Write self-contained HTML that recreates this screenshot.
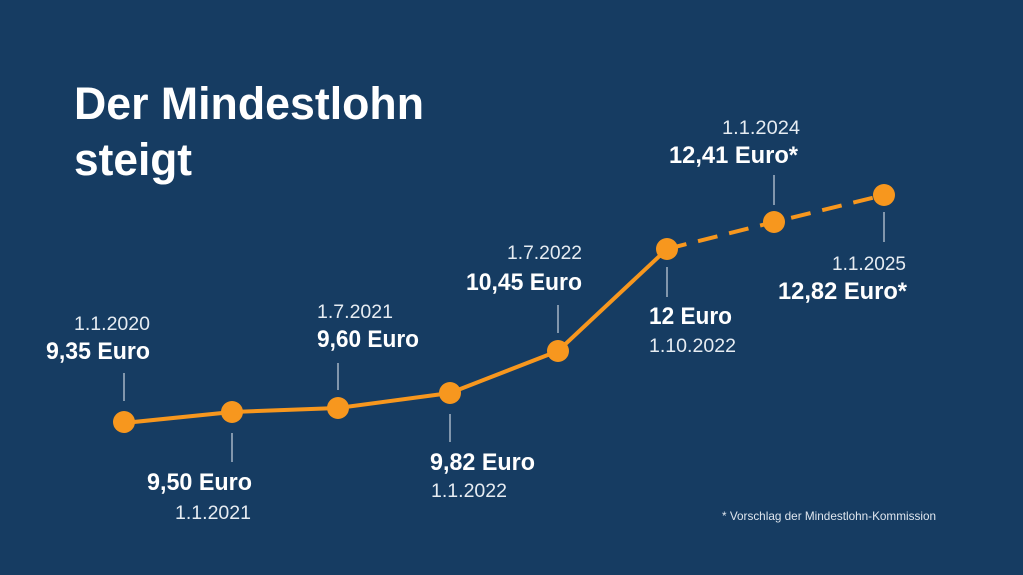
<!DOCTYPE html>
<html><head><meta charset="utf-8"><style>
html,body{margin:0;padding:0;background:#163c62;}
svg{display:block;font-family:"Liberation Sans",sans-serif;}
.v{font-weight:bold;font-size:24px;fill:#fff;}
.d{font-size:19.5px;fill:#e6ecf2;}
</style></head><body>
<svg width="1023" height="575" viewBox="0 0 1023 575">
<rect width="1023" height="575" fill="#163c62"/>
<text x="74" y="119" font-size="45" font-weight="bold" fill="#fff" textLength="350" lengthAdjust="spacingAndGlyphs">Der Mindestlohn</text>
<text x="74" y="175" font-size="45" font-weight="bold" fill="#fff" textLength="118" lengthAdjust="spacingAndGlyphs">steigt</text>
<g stroke="#c9d3de" stroke-width="1.2">
<line x1="124" y1="373" x2="124" y2="401"/>
<line x1="232" y1="433" x2="232" y2="462"/>
<line x1="338" y1="363" x2="338" y2="390"/>
<line x1="450" y1="414" x2="450" y2="442"/>
<line x1="558" y1="305" x2="558" y2="333"/>
<line x1="667" y1="267" x2="667" y2="297"/>
<line x1="774" y1="175" x2="774" y2="205"/>
<line x1="884" y1="212" x2="884" y2="242"/>
</g>
<polyline points="124,423 232,412 338,408 450,393 558,351 667,249" fill="none" stroke="#f7971e" stroke-width="4"/>
<polyline points="667,249 774,222 884,195" fill="none" stroke="#f7971e" stroke-width="4" stroke-dasharray="20,12"/>
<g fill="#f7971e">
<circle cx="124" cy="422" r="11"/><circle cx="232" cy="412" r="11"/><circle cx="338" cy="408" r="11"/>
<circle cx="450" cy="393" r="11"/><circle cx="558" cy="351" r="11"/><circle cx="667" cy="249" r="11"/>
<circle cx="774" cy="222" r="11"/><circle cx="884" cy="195" r="11"/>
</g>
<text class="d" x="74" y="330" textLength="76" lengthAdjust="spacingAndGlyphs">1.1.2020</text>
<text class="v" x="46" y="359" textLength="104" lengthAdjust="spacingAndGlyphs">9,35 Euro</text>
<text class="v" x="147" y="490" textLength="105" lengthAdjust="spacingAndGlyphs">9,50 Euro</text>
<text class="d" x="175" y="519" textLength="76" lengthAdjust="spacingAndGlyphs">1.1.2021</text>
<text class="d" x="317" y="318" textLength="76" lengthAdjust="spacingAndGlyphs">1.7.2021</text>
<text class="v" x="317" y="347" textLength="102" lengthAdjust="spacingAndGlyphs">9,60 Euro</text>
<text class="v" x="430" y="470" textLength="105" lengthAdjust="spacingAndGlyphs">9,82 Euro</text>
<text class="d" x="431" y="497" textLength="76" lengthAdjust="spacingAndGlyphs">1.1.2022</text>
<text class="d" x="507" y="259" textLength="75" lengthAdjust="spacingAndGlyphs">1.7.2022</text>
<text class="v" x="466" y="290" textLength="116" lengthAdjust="spacingAndGlyphs">10,45 Euro</text>
<text class="v" x="649" y="324" textLength="83" lengthAdjust="spacingAndGlyphs">12 Euro</text>
<text class="d" x="649" y="352" textLength="87" lengthAdjust="spacingAndGlyphs">1.10.2022</text>
<text class="d" x="722" y="134" textLength="78" lengthAdjust="spacingAndGlyphs">1.1.2024</text>
<text class="v" x="669" y="163" textLength="129" lengthAdjust="spacingAndGlyphs">12,41 Euro*</text>
<text class="d" x="832" y="270" textLength="74" lengthAdjust="spacingAndGlyphs">1.1.2025</text>
<text class="v" x="778" y="299" textLength="129" lengthAdjust="spacingAndGlyphs">12,82 Euro*</text>
<text x="722" y="520" font-size="12" fill="#dfe6ee" textLength="214" lengthAdjust="spacingAndGlyphs">* Vorschlag der Mindestlohn-Kommission</text>
</svg>
</body></html>
